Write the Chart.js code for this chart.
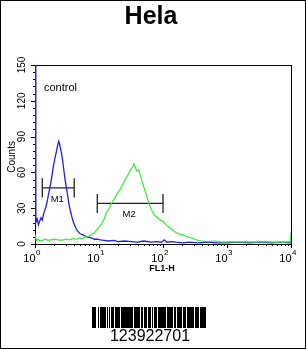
<!DOCTYPE html>
<html>
<head>
<meta charset="utf-8">
<script src="https://cdn.jsdelivr.net/npm/chart.js@4"></script>
<style>
  html, body { margin: 0; padding: 0; background: #fff; }
  #wrap { width: 306px; height: 350px; }
</style>
</head>
<body>
<div id="wrap"><canvas id="c" width="306" height="350"></canvas></div>
<script>
// Hela flow histogram (FL1-H), control (blue) vs antibody (green)
const blueX = [1, 1.03, 1.08, 1.13, 1.18, 1.24, 1.3, 1.36, 1.42, 1.5, 1.58, 1.66, 1.75, 1.85, 1.95, 2.05, 2.15, 2.25, 2.35, 2.42,
  2.5, 2.6, 2.7, 2.82, 2.95, 3.1, 3.25, 3.4, 3.6, 3.8, 4.0, 4.3, 4.6, 5.0, 5.4, 5.9, 6.4, 7.0, 7.7, 8.5,
  9.4, 10.5, 12, 14, 17, 20, 25, 32, 40, 50, 65, 80, 95, 105, 115, 135, 160, 200, 260, 350,
  500, 700, 1000, 1500, 2200, 3300, 5000, 7000, 10000];
const blueY = [160, 18, 21, 16, 19, 22, 20, 25, 28, 32, 38, 44, 50, 58, 66, 72, 77, 82, 86, 84,
  80, 76, 70, 62, 54, 47, 40, 33, 27, 22, 18, 14, 11, 9, 8, 7, 6, 5.5, 5, 4,
  4, 3.5, 3, 2.5, 3, 2, 2.5, 2, 1.5, 2.5, 1.5, 2, 1.5, 3.5, 1.5, 2, 1.5, 1, 1.5, 1,
  1.5, 1, 1, 1.5, 1, 1.5, 1, 1.5, 1];

const greenX = [1, 1.05, 1.12, 1.2, 1.3, 1.45, 1.6, 1.8, 2.0, 2.3, 2.6, 3.0, 3.4, 3.9, 4.5, 5.0, 5.6, 6.2, 6.9, 7.6,
  8.4, 9.2, 10, 11, 12, 13, 14.5, 16, 17.5, 19, 21, 23, 25, 27, 29, 31, 33, 35, 37, 39,
  42, 45, 48, 52, 56, 61, 67, 74, 82, 91, 100, 112, 125, 140, 160, 185, 210, 240, 280, 330,
  400, 500, 650, 850, 1100, 1500, 2000, 2800, 4000, 5500, 7500, 9800, 10000];
const greenY = [8, 3, 4, 2.5, 3, 4, 3, 3.5, 4, 3.5, 3, 4, 3.5, 4.5, 4, 5, 4.5, 6, 6.5, 8,
  9, 12, 14, 17, 21, 26, 30, 35, 38, 42, 45, 49, 53, 56, 59, 62, 64, 67, 64, 61,
  62, 56, 51, 45, 40, 33, 28, 24, 22, 20, 19, 16, 14, 12, 9.5, 8, 7.5, 6, 5, 3.5,
  2.5, 2, 2.5, 1.5, 2, 1.5, 2, 1.5, 2, 1.5, 1.5, 2, 10];

// marker gates: name, from, to, level
const markerNames = ['M1', 'M2'];
const markerFrom = [1.3, 9.4];
const markerTo = [4.1, 100];
const markerLevel = [47, 34];

const yTicks = [0, 30, 60, 90, 120, 150];
const xDecades = [0, 1, 2, 3, 4];

const barcodeText = '123922701';
const barcodeBits = '110100100001100110110011011001100110011011000101110110001011101101110110111011000110110110110001101000110100010110001000110111000101110110111010001110110111000101100011101011000111010001110101101110001110101100011110101111';

const FONT = "'Liberation Sans', Arial, sans-serif";

const toPts = (xs, ys) => xs.map((x, i) => ({ x, y: ys[i] }));

const markerSets = [];
markerNames.forEach((n, i) => {
  const lv = markerLevel[i];
  const line = { borderColor: '#222', borderWidth: 1.3, pointRadius: 0, showLine: true, tension: 0 };
  markerSets.push({ ...line, data: [{ x: markerFrom[i], y: lv }, { x: markerTo[i], y: lv }] });
  markerSets.push({ ...line, data: [{ x: markerFrom[i], y: lv - 8 }, { x: markerFrom[i], y: lv + 8 }] });
  markerSets.push({ ...line, data: [{ x: markerTo[i], y: lv - 8 }, { x: markerTo[i], y: lv + 8 }] });
});

const decor = {
  id: 'decor',
  beforeDatasetsDraw(chart) {
    const { ctx, chartArea: a } = chart;
    ctx.save();
    ctx.strokeStyle = '#000';
    ctx.lineWidth = 1;
    ctx.strokeRect(Math.round(a.left) + 0.5, Math.round(a.top) + 0.5,
      Math.round(a.right - a.left), Math.round(a.bottom - a.top));
    ctx.restore();
  },
  afterDraw(chart) {
    const { ctx, chartArea: a, scales } = chart;
    const xs = scales.x, ys = scales.y;
    ctx.save();
    // outer border
    ctx.strokeStyle = '#000';
    ctx.lineWidth = 1;
    ctx.strokeRect(0.5, 0.5, 305, 348);

    // y ticks
    ctx.beginPath();
    for (let v = 0; v <= 150; v += 6) {
      const y = Math.round(ys.getPixelForValue(v)) + 0.5;
      const len = v % 30 === 0 ? 4 : 2;
      ctx.moveTo(a.left, y);
      ctx.lineTo(a.left - len, y);
    }
    // x ticks (log)
    xDecades.forEach(d => {
      const m = d < 4 ? 9 : 1;
      for (let k = 1; k <= m; k++) {
        const x = Math.round(xs.getPixelForValue(k * Math.pow(10, d))) + 0.5;
        ctx.moveTo(x, a.bottom);
        ctx.lineTo(x, a.bottom + (k === 1 ? 4 : 2));
      }
    });
    ctx.stroke();

    ctx.fillStyle = '#000';
    // y tick labels rotated
    ctx.font = '10px ' + FONT;
    ctx.textAlign = 'center';
    ctx.textBaseline = 'middle';
    yTicks.forEach(v => {
      const y = ys.getPixelForValue(v);
      ctx.save();
      ctx.translate(22, y);
      ctx.rotate(-Math.PI / 2);
      ctx.fillText(String(v), 0, 0);
      ctx.restore();
    });
    ctx.save();
    ctx.translate(12, ys.getPixelForValue(73));
    ctx.rotate(-Math.PI / 2);
    ctx.font = '10px ' + FONT;
    ctx.fillText('Counts', 0, 0);
    ctx.restore();

    // x tick labels 10^d
    xDecades.forEach(d => {
      const x = xs.getPixelForValue(Math.pow(10, d));
      ctx.font = '11px ' + FONT;
      ctx.textAlign = 'right';
      ctx.textBaseline = 'middle';
      ctx.fillText('10', x + 0.5, 259);
      ctx.font = '8px ' + FONT;
      ctx.textAlign = 'left';
      ctx.fillText(String(d), x + 1, 253);
    });

    // axis title
    ctx.font = 'bold 9px ' + FONT;
    ctx.textAlign = 'center';
    ctx.fillText('FL1-H', 162, 269);

    // title
    ctx.font = 'bold 25px ' + FONT;
    ctx.fillText('Hela', 151, 17);

    // control label
    ctx.font = '11px ' + FONT;
    ctx.textAlign = 'left';
    ctx.fillText('control', 44, 88);

    // marker labels
    ctx.font = '9.5px ' + FONT;
    ctx.textAlign = 'center';
    markerNames.forEach((n, i) => {
      const cx = (xs.getPixelForValue(markerFrom[i]) + xs.getPixelForValue(markerTo[i])) / 2;
      const cy = ys.getPixelForValue(markerLevel[i]) + 11;
      ctx.fillText(n, cx - 1, cy);
    });

    // barcode
    const bx0 = 92, bx1 = 206, by0 = 307, by1 = 328;
    const w = (bx1 - bx0) / barcodeBits.length;
    for (let i = 0; i < barcodeBits.length; i++) {
      if (barcodeBits[i] !== '1') continue;
      const x0 = Math.round(bx0 + i * w);
      const x1 = Math.max(x0 + 1, Math.round(bx0 + (i + 1) * w));
      ctx.fillRect(x0, by0, x1 - x0, by1 - by0);
    }
    ctx.font = '16px ' + FONT;
    ctx.textAlign = 'center';
    ctx.textBaseline = 'alphabetic';
    ctx.fillText(barcodeText, 150, 341);
    ctx.restore();
  }
};

new Chart(document.getElementById('c'), {
  type: 'scatter',
  data: {
    datasets: [
      { data: toPts(greenX, greenY), borderColor: '#33ee33', borderWidth: 1.2, pointRadius: 0, showLine: true, tension: 0 },
      { data: toPts(blueX, blueY), borderColor: '#2020ee', borderWidth: 1.3, pointRadius: 0, showLine: true, tension: 0 },
      ...markerSets,
    ],
  },
  options: {
    responsive: false,
    animation: false,
    devicePixelRatio: 1,
    layout: { padding: { left: 35, right: 15, top: 65, bottom: 106 } },
    plugins: { legend: { display: false }, tooltip: { enabled: false } },
    scales: {
      x: { type: 'logarithmic', min: 1, max: 10000, display: false },
      y: { type: 'linear', min: 0, max: 150, display: false },
    },
  },
  plugins: [decor],
});
</script>
</body>
</html>
